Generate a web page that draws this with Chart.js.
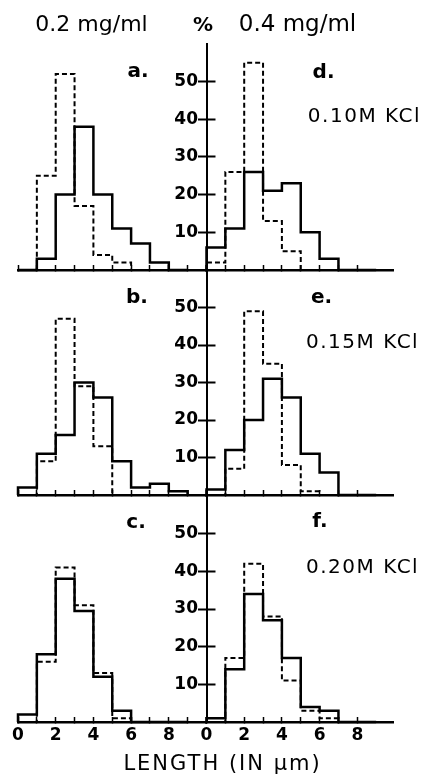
<!DOCTYPE html>
<html><head><meta charset="utf-8">
<script src="https://cdn.jsdelivr.net/npm/chart.js@4.4.1/dist/chart.umd.min.js"></script>
<style>
html,body{margin:0;padding:0;background:#fff;}
#wrap{position:relative;width:427px;height:779px;background:#fff;}
#wrap canvas{position:absolute;left:0;top:0;}
</style></head><body>
<div id="wrap">
<canvas id="pa" width="427" height="779"></canvas>
<canvas id="pd" width="427" height="779"></canvas>
<canvas id="pb" width="427" height="779"></canvas>
<canvas id="pe" width="427" height="779"></canvas>
<canvas id="pc" width="427" height="779"></canvas>
<canvas id="pf" width="427" height="779"></canvas>
</div>
<script>
// ---- data (percent of filaments per 1 µm length bin) ----
const binStarts = [0, 1, 2, 3, 4, 5, 6, 7, 8];
const solidA = [0, 3, 20, 38, 20, 11, 7, 2, 0];
const dashA  = [0, 25, 52, 17, 4, 2, 0, 0, 0];
const solidD = [6, 11, 26, 21, 23, 10, 3, 0, 0];
const dashD  = [2, 26, 55, 13, 5, 0, 0, 0, 0];
const solidB = [2, 11, 16, 30, 26, 9, 2, 3, 1];
const dashB  = [0, 9, 47, 29, 13, 0, 0, 0, 0];
const solidE = [1.5, 12, 20, 31, 26, 11, 6, 0, 0];
const dashE  = [0, 7, 49, 35, 8, 1, 0, 0, 0];
const solidC = [2, 18, 38, 29.5, 12, 3, 0, 0, 0];
const dashC  = [0, 16, 41, 31, 13, 1, 0, 0, 0];
const solidF = [1, 14, 34, 27, 17, 4, 3, 0, 0];
const dashF  = [0, 17, 42, 28, 11, 3, 1, 0, 0];
const yTickValues = [10, 20, 30, 40, 50];
const xLabelValues = [0, 2, 4, 6, 8];

// ---- layout ----
const UNIT = 18.85;
const COL = { left: { x0: 18, max: 10 }, right: { x0: 206.5, max: 9.9 } };
const ROWS = [{ top: 43.8, bottom: 270 }, { top: 270, bottom: 495 }, { top: 496, bottom: 722 }];
const FONT = 'DejaVu Sans';
const XBOX = 30, YBOX = 40;

function outline(values) {
  const pts = [{ x: binStarts[0], y: 0 }];
  values.forEach((v, i) => pts.push({ x: binStarts[i], y: v }));
  pts.push({ x: binStarts[binStarts.length - 1] + 1, y: 0 });
  return pts;
}

function notesPlugin(items) {
  return {
    id: 'notes',
    afterDraw(chart) {
      const ctx = chart.ctx, xs = chart.scales.x, ys = chart.scales.y;
      items.forEach(n => {
        ctx.save();
        ctx.font = n.font;
        ctx.fillStyle = '#000';
        ctx.textAlign = 'center';
        ctx.textBaseline = 'alphabetic';
        if (n.spacing) ctx.letterSpacing = n.spacing + 'px';
        ctx.fillText(n.text, xs.getPixelForValue(n.x), ys.getPixelForValue(n.y));
        ctx.restore();
      });
    }
  };
}

function makePanel(id, side, row, solid, dash, notes, showXLabels) {
  const c = COL[side], r = ROWS[row];
  const left = c.x0, right = c.x0 + c.max * UNIT;
  const isRight = side === 'right';
  const yBox = isRight ? YBOX : 0;
  new Chart(document.getElementById(id), {
    type: 'line',
    data: { datasets: [
      { data: outline(solid), borderColor: '#000', borderWidth: 2.5, stepped: true, pointRadius: 0,
        fill: false, clip: false, borderJoinStyle: 'miter', borderCapStyle: 'butt' },
      { data: outline(dash), borderColor: '#000', borderWidth: 2, borderDash: [5, 3], stepped: true,
        pointRadius: 0, fill: false, clip: false, borderJoinStyle: 'miter', borderCapStyle: 'butt' }
    ] },
    options: {
      responsive: false, animation: false, events: [],
      layout: { padding: { left: left - yBox, right: 427 - right, top: r.top, bottom: 779 - r.bottom - XBOX } },
      plugins: { legend: { display: false }, tooltip: { enabled: false } },
      scales: {
        x: {
          type: 'linear', min: 0, max: c.max, position: 'bottom',
          afterFit: s => { s.height = XBOX; },
          afterBuildTicks: s => { s.ticks = s.ticks.filter(t => Number.isInteger(t.value)); },
          border: { display: true, color: '#000', width: 2.5 },
          grid: { drawOnChartArea: false, drawTicks: true, tickLength: -5, tickColor: '#000', tickWidth: 1.5 },
          ticks: { display: showXLabels, stepSize: 1, autoSkip: false, maxRotation: 0, padding: 8, color: '#000',
                   font: { family: FONT, size: 17, weight: 'bold' },
                   callback: v => xLabelValues.includes(v) ? String(v) : '' }
        },
        y: {
          type: 'linear', min: 0, max: 60, position: isRight ? 'left' : 'right',
          afterFit: s => { s.width = yBox; },
          afterBuildTicks: s => { s.ticks = s.ticks.filter(t => yTickValues.includes(t.value)); },
          border: { display: isRight, color: '#000', width: 2 },
          grid: { drawOnChartArea: false, drawTicks: true, tickLength: isRight ? 8.5 : 9, tickColor: '#000', tickWidth: 2 },
          ticks: { display: isRight, stepSize: 10, padding: 0, color: '#000',
                   font: { family: FONT, size: 17, weight: 'bold' } }
        }
      }
    },
    plugins: [notesPlugin(notes)]
  });
}

const regular = s => s + 'px "' + FONT + '"';
const bold = s => 'bold ' + s + 'px "' + FONT + '"';

makePanel('pa', 'left', 0, solidA, dashA, [
  { text: '0.2 mg/ml', x: 3.90, y: 63.35, font: regular(22) },
  { text: '%', x: 9.81, y: 63.35, font: bold(20) },
  { text: 'a.', x: 6.37, y: 51.2, font: bold(20) }
], false);
makePanel('pd', 'right', 0, solidD, dashD, [
  { text: '0.4 mg/ml', x: 4.83, y: 63.35, font: regular(23) },
  { text: 'd.', x: 6.21, y: 50.9, font: bold(20) },
  { text: '0.10M KCl', x: 8.38, y: 39.25, font: regular(20), spacing: 1.5 }
], false);
makePanel('pb', 'left', 1, solidB, dashB, [
  { text: 'b.', x: 6.31, y: 51.2, font: bold(20) }
], false);
makePanel('pe', 'right', 1, solidE, dashE, [
  { text: 'e.', x: 6.10, y: 51.2, font: bold(20) },
  { text: '0.15M KCl', x: 8.28, y: 39.2, font: regular(20), spacing: 1.5 }
], false);
makePanel('pc', 'left', 2, solidC, dashC, [
  { text: 'c.', x: 6.26, y: 51.5, font: bold(20) }
], true);
makePanel('pf', 'right', 2, solidF, dashF, [
  { text: 'f.', x: 6.02, y: 51.8, font: bold(20) },
  { text: '0.20M KCl', x: 8.28, y: 39.55, font: regular(20), spacing: 1.5 },
  { text: 'LENGTH (IN µm)', x: 0.85, y: -12.74, font: regular(21), spacing: 2 }
], true);
</script>
</body></html>
